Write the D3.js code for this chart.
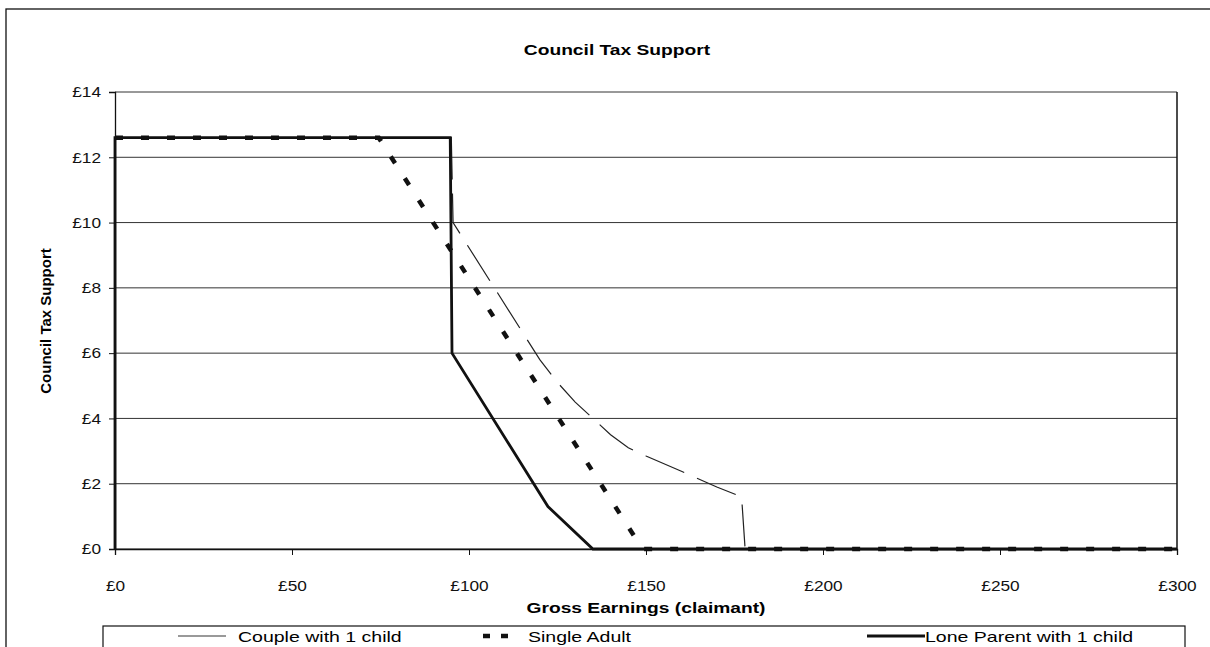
<!DOCTYPE html>
<html><head><meta charset="utf-8">
<script src="https://cdn.jsdelivr.net/npm/d3@7"></script>
<style>body{margin:0;background:#fff;} svg{display:block;font-family:"Liberation Sans",Arial,sans-serif;}</style>
</head><body>
<svg id="c" width="1210" height="647"></svg>
<script>
const title = "Council Tax Support";
const xTitle = "Gross Earnings (claimant)";
const yTitle = "Council Tax Support";
const xTicks = [0, 50, 100, 150, 200, 250, 300];
const yTicks = [0, 2, 4, 6, 8, 10, 12, 14];
const seriesNames = ["Couple with 1 child", "Single Adult", "Lone Parent with 1 child"];
const coupleX = [0, 95, 95.5, 120, 125, 130, 135, 140, 145, 150, 160, 170, 177, 178, 300];
const coupleY = [12.6, 12.6, 10, 5.8, 5.1, 4.5, 4.0, 3.5, 3.1, 2.85, 2.38, 1.9, 1.6, 0, 0];
const singleX = [0, 74.5, 149, 300];
const singleY = [12.6, 12.6, 0, 0];
const loneX = [0, 0, 94.7, 95.2, 122.3, 135, 300];
const loneY = [0, 12.6, 12.6, 6, 1.3, 0, 0];

const svg = d3.select("#c");
const x = d3.scaleLinear().domain([0, 300]).range([115, 1177]);
const y = d3.scaleLinear().domain([0, 14]).range([549, 92]);

// horizontally stretch text (the reference is a horizontally widened scan)
function stretch(sel, k) {
  sel.each(function () {
    const t = d3.select(this);
    const len = this.getComputedTextLength();
    const anchor = t.attr("text-anchor");
    if (anchor === "middle" && t.attr("x") !== null) {
      t.attr("x", +t.attr("x") - len * k / 2).attr("text-anchor", "start");
    }
    t.attr("textLength", len * k).attr("lengthAdjust", "spacingAndGlyphs");
  });
}

// outer chart border (extends past window)
svg.append("rect").attr("x", 6).attr("y", 9).attr("width", 1300).attr("height", 700)
  .attr("fill", "none").attr("stroke", "#111").attr("stroke-width", 1.3);

// title
svg.append("text").attr("x", 617).attr("y", 55).attr("text-anchor", "middle")
  .attr("font-size", 15).attr("font-weight", "bold").text(title).call(stretch, 1.28);

// gridlines
svg.append("g").selectAll("line").data(yTicks).join("line")
  .attr("x1", x(0)).attr("x2", x(300)).attr("y1", d => y(d)).attr("y2", d => y(d))
  .attr("stroke", "#333").attr("stroke-width", 1);

// plot frame right
svg.append("line").attr("x1", x(300)).attr("x2", x(300)).attr("y1", y(14)).attr("y2", y(0))
  .attr("stroke", "#111").attr("stroke-width", 1.5);

// axes
const yAxis = d3.axisLeft(y).tickValues(yTicks).tickFormat(d => "£" + d).tickSize(6).tickPadding(8);
const gy = svg.append("g").attr("transform", `translate(${x(0)},0)`).call(yAxis);
const xAxis = d3.axisBottom(x).tickValues(xTicks).tickFormat(d => "£" + d).tickSize(6).tickPadding(25);
const gx = svg.append("g").attr("transform", `translate(0,${y(0)})`).call(xAxis);
[gx, gy].forEach(g => {
  g.attr("font-size", 15);
  g.select(".domain").attr("stroke", "#111").attr("stroke-width", 1.3);
  g.selectAll(".tick line").attr("stroke", "#111");
  g.selectAll(".tick text").attr("font-size", 15).attr("fill", "#111")
    .attr("font-family", '"Liberation Sans",Arial,sans-serif');
});
gx.selectAll(".tick text").each(function () {
  const t = d3.select(this);
  const len = this.getComputedTextLength();
  t.attr("text-anchor", "start").attr("x", -len * 1.15 / 2)
   .attr("textLength", len * 1.15).attr("lengthAdjust", "spacingAndGlyphs");
});
gy.selectAll(".tick text").each(function () {
  const len = this.getComputedTextLength();
  d3.select(this).attr("textLength", len * 1.15).attr("lengthAdjust", "spacingAndGlyphs");
});

// axis titles
svg.append("text").attr("x", 646).attr("y", 613).attr("text-anchor", "middle")
  .attr("font-size", 15).attr("font-weight", "bold").text(xTitle).call(stretch, 1.28);
svg.append("text").attr("transform", "translate(51,321) rotate(-90)").attr("text-anchor", "middle")
  .attr("font-size", 15).attr("font-weight", "bold").text(yTitle);

const line = d3.line().x(d => x(d[0])).y(d => y(d[1]));
const styles = [
  {w: 1.2, dash: "42,14", color: "#222"},
  {w: 4.5, dash: "8,18", color: "#111"},
  {w: 2.8, dash: null, color: "#111"}
];
const data = [
  coupleX.map((v, i) => [v, coupleY[i]]),
  singleX.map((v, i) => [v, singleY[i]]),
  loneX.map((v, i) => [v, loneY[i]])
];
data.forEach((d, i) => {
  svg.append("path").datum(d).attr("d", line).attr("fill", "none")
    .attr("stroke", styles[i].color).attr("stroke-width", styles[i].w)
    .attr("stroke-dasharray", styles[i].dash).attr("stroke-linejoin", "miter");
});

// legend
svg.append("rect").attr("x", 103).attr("y", 626).attr("width", 1082).attr("height", 40)
  .attr("fill", "#fff").attr("stroke", "#111").attr("stroke-width", 1.2);
const legPos = [{lx1: 178, lx2: 226, tx: 238}, {lx1: 483, lx2: 512, tx: 528}, {lx1: 867, lx2: 925, tx: 925}];
const legStyles = [
  {w: 1.5, dash: null, color: "#777"},
  {w: 4.5, dash: "7,11", color: "#111"},
  {w: 2.8, dash: null, color: "#111"}
];
seriesNames.forEach((n, i) => {
  svg.append("line").attr("x1", legPos[i].lx1).attr("x2", legPos[i].lx2).attr("y1", 636).attr("y2", 636)
    .attr("stroke", legStyles[i].color).attr("stroke-width", legStyles[i].w)
    .attr("stroke-dasharray", legStyles[i].dash);
  svg.append("text").attr("x", legPos[i].tx).attr("y", 642).attr("font-size", 15).text(n).call(stretch, 1.3);
});
</script>
</body></html>
